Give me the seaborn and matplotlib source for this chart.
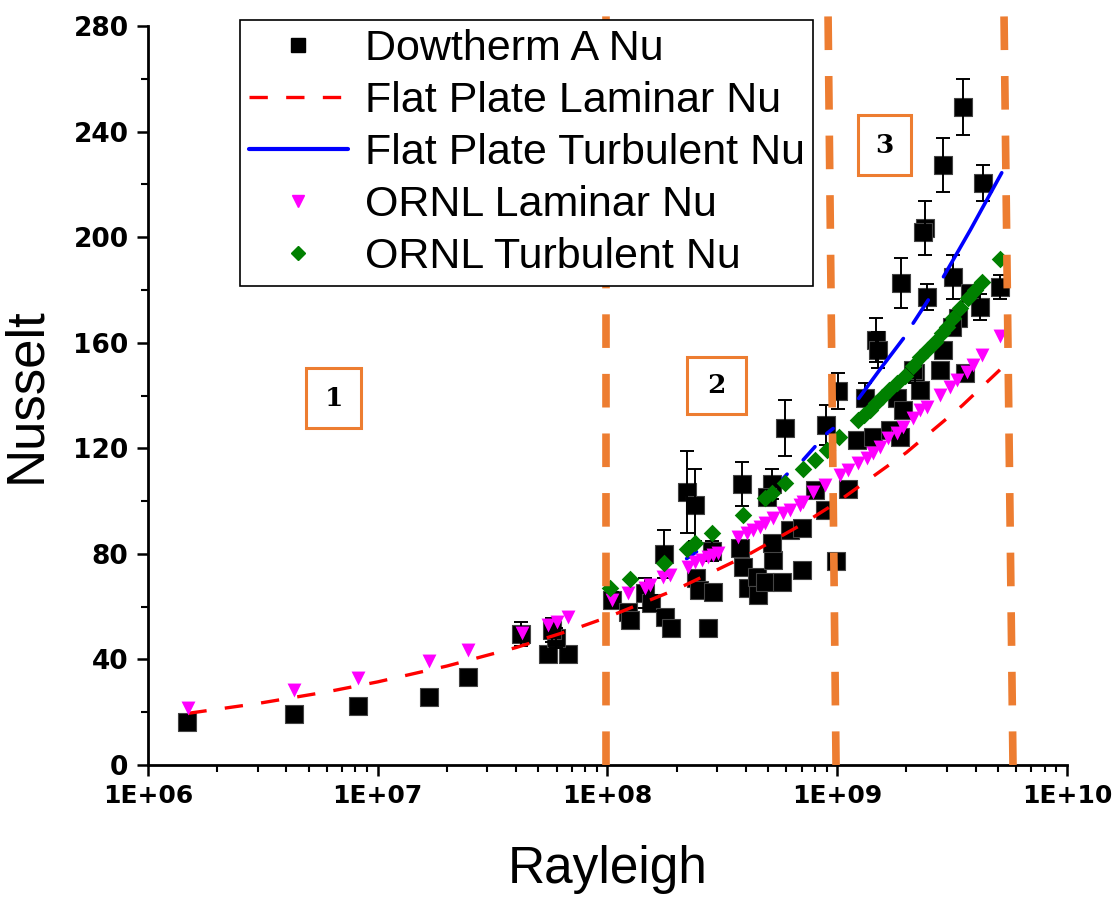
import numpy as np
import pandas as pd
import matplotlib
matplotlib.use("Agg")
import matplotlib.pyplot as plt
import seaborn as sns
from matplotlib.lines import Line2D
from matplotlib.patches import Rectangle
from matplotlib.ticker import LogLocator, NullFormatter, MultipleLocator

# ---------------- data ----------------
dow_ra = [1.48e6, 4.32e6, 8.2e6, 1.67e7, 2.47e7, 4.2e7, 5.5e7, 6.73e7, 5.97e7, 5.75e7,
          1.046e8, 1.23e8, 1.25e8, 1.46e8, 1.55e8, 1.78e8, 1.89e8, 1.76e8, 2.22e8, 2.40e8,
          2.43e8, 2.50e8, 2.88e8, 2.74e8, 2.85e8, 3.78e8, 3.89e8, 4.09e8, 4.48e8, 4.52e8,
          4.85e8, 5.25e8, 5.2e8, 5.75e8, 7.02e8, 3.85e8, 5.2e8, 4.94e8, 5.93e8, 6.22e8,
          7.02e8, 8.0e8, 8.85e8, 8.93e8, 1.007e9, 9.88e8, 1.114e9,
          1.22e9, 1.43e9, 1.32e9, 1.47e9, 1.50e9, 1.70e9, 1.82e9, 1.93e9, 1.88e9, 1.89e9,
          2.18e9, 2.29e9, 2.41e9, 2.36e9, 2.46e9, 2.89e9, 2.80e9, 2.89e9, 3.52e9, 3.19e9,
          3.35e9, 3.16e9, 3.60e9, 3.78e9, 4.18e9, 4.31e9, 5.1e9, 2.14e9]
dow_nu = [16.3, 19.3, 22.4, 25.8, 33.3, 49.6, 42.1, 42.1, 48.1, 51.2,
          62.5, 58.0, 54.9, 65.2, 61.4, 56.1, 51.9, 80.0, 103.4, 98.5,
          70.9, 66.3, 65.6, 51.9, 81.1, 82.2, 75.0, 67.1, 71.2, 64.4,
          69.3, 77.7, 84.1, 69.3, 73.9, 106.5, 106.5, 101.6, 127.7, 89.1,
          89.8, 104.2, 96.6, 128.8, 141.7, 77.3, 104.6,
          123.2, 124.3, 139.1, 161.0, 157.3, 126.9, 139.1, 134.5, 124.3, 182.6,
          148.5, 142.1, 203.5, 202.0, 177.3, 157.3, 149.7, 227.4, 249.3, 184.9,
          169.4, 166.0, 148.5, 178.9, 173.6, 220.5, 181.1, 149.7]
dow_err = [0, 0, 0, 0, 0, 4.5, 0, 0, 3.8, 4.5,
           3.0, 0, 2.3, 5.7, 3.0, 0, 0, 9.0, 15.5, 13.6,
           0, 0, 0, 0, 3.8, 0, 0, 0, 0, 0,
           0, 0, 0, 0, 0, 8.3, 5.7, 0, 10.6, 0,
           0, 2.3, 0, 7.6, 6.8, 0, 0,
           0, 0, 5.7, 8.3, 6.8, 0, 0, 0, 0, 9.5,
           3.8, 0, 10.2, 0, 5.0, 0, 0, 10.2, 10.6, 8.3,
           0, 0, 0, 0, 5.0, 6.8, 4.5, 0]

lam_ra = [1.5e6, 3e6, 6e6, 1e7, 2e7, 4e7, 7e7, 1e8, 2e8, 4e8, 7e8, 1e9, 2e9, 3.5e9, 5.2e9]
lam_nu = [19.6, 23.3, 27.7, 31.5, 37.5, 44.5, 51.2, 56.0, 66.6, 79.2, 91.1, 99.6, 118.4, 136.2, 150.4]

turb_ra = [2.21e8, 2.44e8, 5.8e8, 6.05e8, 7.11e8, 8.0e8, 9.0e8, 9.6e8,
           1.24e9, 1.55e9, 1.94e9, 2.14e9, 2.49e9, 2.9e9, 3.8e9, 5.2e9]
turb_nu = [78.2, 80.8, 108.5, 110.2, 115.6, 120.6, 125.6, 127.5,
           138.9, 150.4, 161.6, 167.4, 176.2, 185.0, 202.8, 224.4]
turb_seg = [1, 1, 2, 2, 3, 3, 4, 4, 5, 5, 5, 6, 6, 7, 7, 7]

ornl_lam_ra = [1.49e6, 4.32e6, 8.2e6, 1.67e7, 2.47e7, 4.25e7, 5.51e7, 6.03e7, 6.73e7,
               1.046e8, 1.23e8, 1.46e8, 1.53e8, 1.74e8, 1.87e8, 2.24e8, 2.40e8, 2.58e8, 2.74e8,
               2.88e8, 3.04e8, 3.70e8, 4.05e8, 4.30e8, 4.61e8, 4.85e8, 5.25e8, 5.81e8, 6.22e8,
               6.88e8, 7.10e8, 7.85e8, 8.85e8, 1.028e9, 1.114e9, 1.23e9, 1.35e9, 1.43e9, 1.53e9,
               1.66e9, 1.82e9, 1.93e9, 2.14e9, 2.29e9, 2.46e9, 2.80e9, 3.10e9, 3.32e9, 3.67e9,
               3.90e9, 4.27e9, 5.10e9]
ornl_lam_nu = [21.6, 28.4, 33.0, 39.4, 43.6, 50.0, 53.1, 54.2, 56.1,
               62.5, 65.2, 67.1, 68.2, 71.2, 72.0, 75.0, 76.9, 77.7, 78.8,
               79.6, 80.3, 86.4, 87.9, 89.0, 90.2, 91.7, 93.6, 95.5, 96.6,
               98.5, 99.7, 103.4, 106.1, 109.9, 111.8, 114.4, 116.3, 118.2, 120.5,
               123.9, 125.8, 128.1, 131.5, 134.5, 135.7, 140.2, 143.2, 145.9, 148.9,
               151.6, 155.4, 162.6]

ornl_turb_ra = [1.025e8, 1.25e8, 1.76e8, 2.22e8, 2.40e8, 2.85e8, 3.89e8, 4.85e8, 5.20e8,
                5.93e8, 7.10e8, 8.0e8, 9.03e8, 1.018e9, 1.231e9, 1.307e9, 1.388e9, 1.475e9,
                1.566e9, 1.680e9, 1.82e9, 1.972e9, 2.136e9, 2.29e9, 2.458e9, 2.665e9, 2.858e9,
                3.005e9, 3.19e9, 3.42e9, 3.71e9, 3.98e9, 4.27e9, 5.10e9]
ornl_turb_nu = [67.1, 70.5, 76.5, 81.8, 84.1, 87.9, 94.7, 101.2, 103.1,
                106.9, 112.2, 115.6, 119.4, 124.3, 130.7, 132.6, 134.5, 137.2,
                139.4, 142.1, 144.8, 147.4, 151.2, 154.6, 157.3, 160.3, 163.7,
                166.0, 169.4, 173.2, 177.0, 180.0, 183.0, 191.7]

regime_bottom_ra = [9.9e7, 9.88e8, 5.82e9]
regime_top_ra = [9.9e7, 9.12e8, 5.32e9]
regime_labels = ["1", "2", "3"]

x_tick_vals = [1e6, 1e7, 1e8, 1e9, 1e10]
x_tick_labels = ["1E+06", "1E+07", "1E+08", "1E+09", "1E+10"]
y_tick_vals = [0, 40, 80, 120, 160, 200, 240, 280]

series_names = ["Dowtherm A Nu", "Flat Plate Laminar Nu", "Flat Plate Turbulent Nu",
                "ORNL Laminar Nu", "ORNL Turbulent Nu"]

# ---------------- style ----------------
sns.set_theme(style="ticks")
plt.rcParams['font.family'] = ['Liberation Sans', 'DejaVu Sans']
plt.rcParams['text.color'] = 'black'
plt.rcParams['axes.labelcolor'] = 'black'

fig = plt.figure(figsize=(11.18, 8.99), dpi=100)
ax = fig.add_axes([0.13238, 0.14905, 0.82200, 0.82202])

ORANGE = "#ED7D31"

# Dowtherm squares + error bars
dow = pd.DataFrame({"Ra": dow_ra, "Nu": dow_nu, "err": dow_err})
sns.scatterplot(data=dow, x="Ra", y="Nu", marker="s", s=170, color="black",
                edgecolor="#444444", linewidth=0.8, ax=ax, zorder=2, legend=False)
de = dow[dow["err"] > 0]
ax.errorbar(de["Ra"], de["Nu"], yerr=de["err"], fmt="none", ecolor="black",
            elinewidth=1.4, capsize=5, capthick=1.4, zorder=2)

# Flat plate laminar
lam = pd.DataFrame({"Ra": lam_ra, "Nu": lam_nu})
sns.lineplot(data=lam, x="Ra", y="Nu", color="red", linewidth=2.4,
             linestyle=(0, (5.5, 5.5)), estimator=None, sort=False, ax=ax, zorder=3)

# Flat plate turbulent (segments)
turb = pd.DataFrame({"Ra": turb_ra, "Nu": turb_nu, "seg": turb_seg})
sns.lineplot(data=turb, x="Ra", y="Nu", units="seg", estimator=None, color="blue",
             linewidth=2.6, ax=ax, zorder=3, legend=False)

# ORNL laminar
ol = pd.DataFrame({"Ra": ornl_lam_ra, "Nu": ornl_lam_nu})
sns.scatterplot(data=ol, x="Ra", y="Nu", marker="v", s=100, color="#FF00FF",
                linewidth=0, ax=ax, zorder=4, legend=False)

# ORNL turbulent
ot = pd.DataFrame({"Ra": ornl_turb_ra, "Nu": ornl_turb_nu})
sns.scatterplot(data=ot, x="Ra", y="Nu", marker="D", s=80, color="#008000",
                linewidth=0, ax=ax, zorder=5, legend=False)

# Regime separators
for rb, rt in zip(regime_bottom_ra, regime_top_ra):
    ax.plot([rb, rt], [0, 284], color=ORANGE, linewidth=5.5,
            linestyle=(0, (4.4, 3.4)), zorder=6, clip_on=False, solid_capstyle="butt")

# Regime labels boxes (axes fraction)
boxes = [(0.172, 0.456, 0.060, 0.081), (0.586, 0.475, 0.065, 0.077), (0.773, 0.798, 0.057, 0.081)]
for (bx, by, bw, bh), lab in zip(boxes, regime_labels):
    ax.add_patch(Rectangle((bx, by), bw, bh, transform=ax.transAxes, fill=False,
                           edgecolor=ORANGE, linewidth=2.2, zorder=7))
    ax.text(bx + bw / 2, by + bh / 2, lab, transform=ax.transAxes, ha="center",
            va="center", fontsize=19, fontweight="bold", family="DejaVu Serif",
            color="black", zorder=8)

# Axes
ax.set_xscale("log")
ax.set_xlim(1e6, 1e10)
ax.set_ylim(0, 280)
ax.set_xticks(x_tick_vals)
ax.set_xticklabels(x_tick_labels)
ax.xaxis.set_minor_locator(LogLocator(base=10, subs=np.arange(2, 10)))
ax.xaxis.set_minor_formatter(NullFormatter())
ax.set_yticks(y_tick_vals)
ax.yaxis.set_minor_locator(MultipleLocator(20))
sns.despine(ax=ax)
for sp in ["left", "bottom"]:
    ax.spines[sp].set_linewidth(2)
    ax.spines[sp].set_color("black")
ax.tick_params(which="major", direction="out", length=8, width=1.8, colors="black", pad=6)
ax.tick_params(which="minor", direction="out", length=5, width=1.5, colors="black")
for t in ax.get_xticklabels():
    t.set_fontfamily("DejaVu Sans")
    t.set_fontweight("bold")
    t.set_fontsize(18)
for t in ax.get_yticklabels():
    t.set_fontfamily("DejaVu Sans")
    t.set_fontweight("bold")
    t.set_fontsize(19)
ax.set_xlabel("Rayleigh", fontsize=37, labelpad=26, color="black")
ax.set_ylabel("Nusselt", fontsize=38, labelpad=16, color="black")
ax.grid(False)

handles = [
    Line2D([], [], marker="s", color="black", linestyle="none", markersize=10),
    Line2D([], [], color="red", linewidth=2.4, linestyle=(0, (5.5, 5.5))),
    Line2D([], [], color="blue", linewidth=3),
    Line2D([], [], marker="v", color="#FF00FF", linestyle="none", markersize=9),
    Line2D([], [], marker="D", color="#008000", linestyle="none", markersize=7),
]
leg = ax.legend(handles, series_names, loc="upper left", bbox_to_anchor=(0.100, 1.008),
                fontsize=31, frameon=True, fancybox=False, framealpha=1,
                edgecolor="black", borderpad=0.2, labelspacing=0.28,
                handlelength=2.3, handletextpad=0.4, borderaxespad=0)
leg.get_frame().set_linewidth(1.2)
for t in leg.get_texts():
    t.set_color("black")
leg.set_zorder(10)

fig.savefig("out.png", dpi=100)
